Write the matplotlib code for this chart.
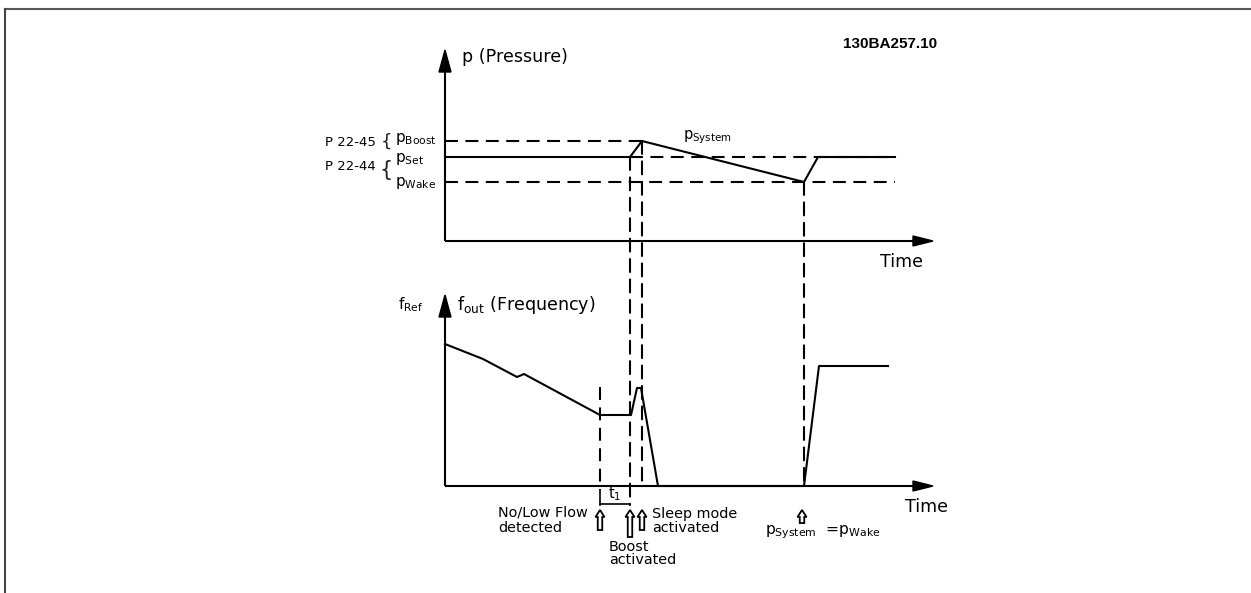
import matplotlib
matplotlib.use("Agg")
import matplotlib.pyplot as plt
from matplotlib.patches import Polygon, FancyArrow, ConnectionPatch
from matplotlib.lines import Line2D

plt.rcParams['font.family'] = ['DejaVu Sans']
plt.rcParams['mathtext.fontset'] = 'dejavusans'

# ---- data (time in arbitrary units) ----
P_WAKE, P_SET, P_BOOST = 59, 84, 100
T_NOFLOW, T_BOOST, T_SLEEP, T_WAKE = 155, 185, 197, 359

p_time = [0, 185, 197, 359, 373, 450]
p_value = [84, 84, 100, 59, 84, 84]

f_time = [0, 38, 72, 79, 155, 186, 192, 196, 213, 359, 374, 443]
f_value = [142, 127, 109, 112, 71, 71, 98, 98, 0, 0, 120, 120]

W, H = 1251, 593
fig = plt.figure(figsize=(W / 100, H / 100), dpi=100)
fig.patch.set_facecolor('white')

LW = 1.5
DASH = (6.2, 3.6)
FS_AX = 12.6
FS_LBL = 10.4


def make_axes(origin_px):
    ox, oy = origin_px
    ax = fig.add_axes([ox / W, 1 - oy / H, 500 / W, 200 / H])
    ax.set_xlim(0, 500)
    ax.set_ylim(0, 200)
    ax.axis('off')
    return ax


def draw_arrow_axes(ax):
    ax.plot([0, 0], [0, 172], color='black', lw=LW, solid_capstyle='butt', clip_on=False)
    ax.add_patch(Polygon([[-6, 169], [6, 169], [0, 191]], closed=True,
                         color='black', clip_on=False))
    ax.plot([0, 470], [0, 0], color='black', lw=LW, solid_capstyle='butt', clip_on=False)
    ax.add_patch(Polygon([[468, -5], [468, 5], [488, 0]], closed=True,
                         color='black', clip_on=False))


ax_p = make_axes((445, 241))
ax_f = make_axes((445, 486))
draw_arrow_axes(ax_p)
draw_arrow_axes(ax_f)

# ---- pressure panel ----
ax_p.plot([0, T_SLEEP], [P_BOOST, P_BOOST], color='black', lw=LW, dashes=DASH, clip_on=False)
ax_p.plot([T_BOOST, p_time[-1]], [P_SET, P_SET], color='black', lw=LW, dashes=DASH, clip_on=False)
ax_p.plot([0, p_time[-1]], [P_WAKE, P_WAKE], color='black', lw=LW, dashes=DASH, clip_on=False)
ax_p.plot(p_time, p_value, color='black', lw=LW, clip_on=False)

ax_p.text(17, 184, 'p (Pressure)', fontsize=FS_AX, ha='left', va='center')
ax_p.text(435, -21, 'Time', fontsize=FS_AX, ha='left', va='center')
ax_p.text(492, 197, '130BA257.10', fontsize=11, ha='right', va='center',
          family='Liberation Sans', weight='bold')
ax_p.text(238, 104, r'p$_{\mathrm{System}}$', fontsize=10.5, ha='left', va='center')

ax_p.text(-50, P_BOOST + 2, r'p$_{\mathrm{Boost}}$', fontsize=11, ha='left', va='center')
ax_p.text(-50, P_SET - 2, r'p$_{\mathrm{Set}}$', fontsize=11, ha='left', va='center')
ax_p.text(-50, P_WAKE - 1, r'p$_{\mathrm{Wake}}$', fontsize=11, ha='left', va='center')
ax_p.text(-69, 98, 'P 22-45', fontsize=9.5, ha='right', va='center')
ax_p.text(-69, 74, 'P 22-44', fontsize=9.5, ha='right', va='center')
ax_p.text(-59, 99, '{', fontsize=13, ha='center', va='center', color='#222222')
ax_p.text(-59, 71, '{', fontsize=15, ha='center', va='center', color='#222222')

# ---- frequency panel ----
ax_f.plot(f_time, f_value, color='black', lw=LW, clip_on=False)
ax_f.plot([T_NOFLOW, T_NOFLOW], [99, -4], color='black', lw=LW, dashes=DASH, clip_on=False)

ax_f.text(-47, 181, r'f$_{\mathrm{Ref}}$', fontsize=11, ha='left', va='center')
ax_f.text(12, 181, r'f$_{\mathrm{out}}$ (Frequency)', fontsize=FS_AX, ha='left', va='center')
ax_f.text(460, -21, 'Time', fontsize=FS_AX, ha='left', va='center')

# t1 bracket
ax_f.plot([T_NOFLOW, T_NOFLOW], [-4, -19], color='black', lw=1.2, clip_on=False)
ax_f.plot([T_NOFLOW, T_BOOST], [-18, -18], color='black', lw=1.2, clip_on=False)
ax_f.text((T_NOFLOW + T_BOOST) / 2, -8, r't$_{1}$', fontsize=10.5, ha='center', va='center')

# vertical event lines across both panels
for t, p_top, f_bot in [(T_BOOST, P_SET, -19), (T_SLEEP, P_BOOST, 0), (T_WAKE, P_WAKE, 0)]:
    con = ConnectionPatch(xyA=(t, p_top), coordsA=ax_p.transData,
                          xyB=(t, f_bot), coordsB=ax_f.transData,
                          color='black', lw=LW, linestyle=(0, DASH))
    fig.add_artist(con)

# hollow event arrows
for t, y0 in [(T_NOFLOW, -44), (T_BOOST, -51), (T_SLEEP, -44), (T_WAKE - 2, -37)]:
    ax_f.add_patch(FancyArrow(t, y0, 0, -24 - y0, width=4.5, head_width=9, head_length=7,
                              length_includes_head=True, fc='white', ec='black',
                              lw=1.3, clip_on=False))

ax_f.text(53, -27, 'No/Low Flow', fontsize=FS_LBL, ha='left', va='center')
ax_f.text(53, -42, 'detected', fontsize=FS_LBL, ha='left', va='center')
ax_f.text(207, -28, 'Sleep mode', fontsize=FS_LBL, ha='left', va='center')
ax_f.text(207, -42, 'activated', fontsize=FS_LBL, ha='left', va='center')
ax_f.text(164, -61, 'Boost', fontsize=FS_LBL, ha='left', va='center')
ax_f.text(164, -74, 'activated', fontsize=FS_LBL, ha='left', va='center')
ax_f.text(320, -46, r'p$_{\mathrm{System}}$  =p$_{\mathrm{Wake}}$', fontsize=11.2,
          ha='left', va='center')

# page frame
fig.add_artist(Line2D([5 / W, 1], [1 - 9 / H, 1 - 9 / H], transform=fig.transFigure,
                      color='#555555', lw=1.5))
fig.add_artist(Line2D([5 / W, 5 / W], [0, 1 - 9 / H], transform=fig.transFigure,
                      color='#444444', lw=1.5))

fig.savefig('out.png', dpi=100, facecolor='white')
